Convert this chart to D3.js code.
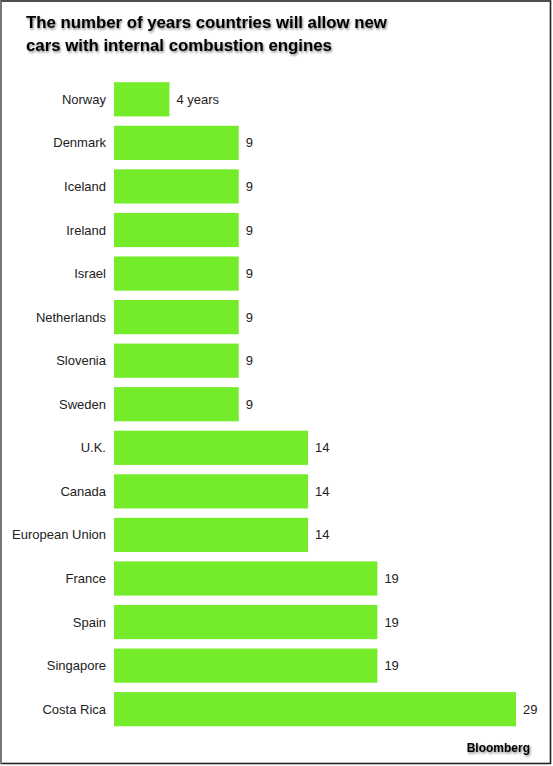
<!DOCTYPE html>
<html>
<head>
<meta charset="utf-8">
<script src="https://cdn.jsdelivr.net/npm/d3@7"></script>
<style>
  html, body { margin: 0; padding: 0; background: #fff; }
  svg { display: block; }
</style>
</head>
<body>
<div id="chart"></div>
<script>
const countries = ["Norway","Denmark","Iceland","Ireland","Israel","Netherlands","Slovenia","Sweden","U.K.","Canada","European Union","France","Spain","Singapore","Costa Rica"];
const years = [4,9,9,9,9,9,9,9,14,14,14,19,19,19,29];
const valueLabels = ["4 years","9","9","9","9","9","9","9","14","14","14","19","19","19","29"];
const titleLines = ["The number of years countries will allow new","cars with internal combustion engines"];
const source = "Bloomberg";

const W = 553, H = 766;
const svg = d3.select("#chart").append("svg").attr("width", W).attr("height", H);

const defs = svg.append("defs");
const f = defs.append("filter").attr("id","shadow").attr("x","-10%").attr("y","-30%").attr("width","120%").attr("height","160%");
f.append("feDropShadow").attr("dx",1).attr("dy",1.5).attr("stdDeviation",1).attr("flood-color","#000").attr("flood-opacity",0.5);

// frame
svg.append("rect").attr("x",1).attr("y",1).attr("width",549.5).attr("height",762.5)
  .attr("fill","#fff").attr("stroke","#222").attr("stroke-width",1.6);
svg.append("line").attr("x1",1).attr("x2",1).attr("y1",1).attr("y2",764).attr("stroke","#777").attr("stroke-width",2);

// title
svg.append("g").selectAll("text").data(titleLines).join("text")
  .attr("x",26).attr("y",(d,i)=>28 + i*23)
  .attr("font-family","Liberation Sans, Arial, sans-serif")
  .attr("font-weight","bold").attr("font-size",16.8).attr("fill","#000")
  .attr("filter","url(#shadow)")
  .text(d=>d);

const x = d3.scaleLinear().domain([0,29]).range([114,516]);
const y = d3.scaleBand().domain(countries).range([73.5,735]).paddingInner(0.215).paddingOuter(0.2);

svg.append("g").selectAll("rect").data(countries).join("rect")
  .attr("x", x(0)).attr("y", d=>y(d))
  .attr("width", (d,i)=>x(years[i]) - x(0))
  .attr("height", y.bandwidth())
  .attr("fill","#74ec2a");

svg.append("g").selectAll("text").data(countries).join("text")
  .attr("x",106).attr("y",d=>y(d)+y.bandwidth()/2)
  .attr("dy","0.35em").attr("text-anchor","end")
  .attr("font-family","Liberation Sans, Arial, sans-serif").attr("font-size",13).attr("fill","#222")
  .text(d=>d);

svg.append("g").selectAll("text").data(countries).join("text")
  .attr("x",(d,i)=>x(years[i])+7).attr("y",d=>y(d)+y.bandwidth()/2)
  .attr("dy","0.35em")
  .attr("font-family","Liberation Sans, Arial, sans-serif").attr("font-size",13).attr("fill","#222")
  .text((d,i)=>valueLabels[i]);

svg.append("text").attr("x",530).attr("y",752).attr("text-anchor","end")
  .attr("font-family","Liberation Sans, Arial, sans-serif").attr("font-weight","bold").attr("font-size",12)
  .attr("fill","#000").attr("filter","url(#shadow)").text(source);
</script>
</body>
</html>
